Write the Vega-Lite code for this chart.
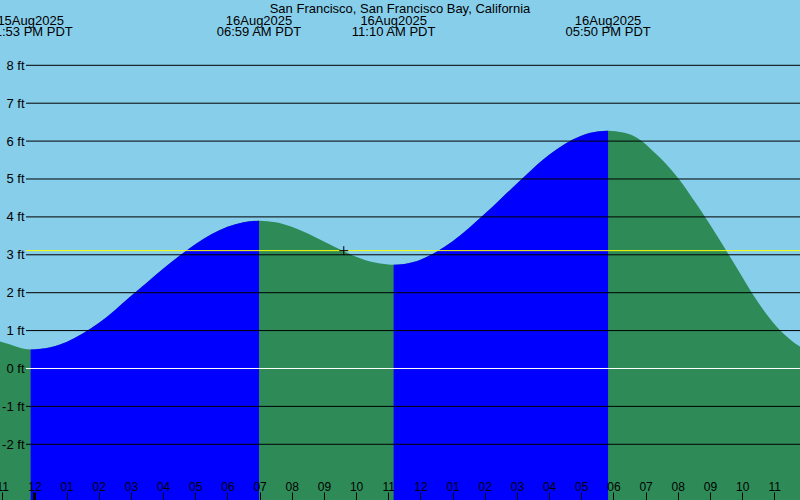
{
  "$schema": "https://vega.github.io/schema/vega-lite/v6.json",
  "description": "Tide prediction, San Francisco, 15-16 Aug 2025 (hour = hours from midnight 16Aug, PDT)",
  "width": 800,
  "height": 500,
  "autosize": "none",
  "padding": 0,
  "background": "#87ceeb",
  "title": {
    "text": "San Francisco, San Francisco Bay, California",
    "fontSize": 13,
    "fontWeight": "normal",
    "color": "black",
    "anchor": "middle",
    "frame": "group",
    "baseline": "alphabetic",
    "offset": -12,
    "dy": 14
  },
  "datasets": {
    "tide": [
      {"hour": -1.1, "ft": 0.72, "phase": "falling", "seg": "f1"},
      {"hour": -0.75, "ft": 0.63, "phase": "falling", "seg": "f1"},
      {"hour": -0.45, "ft": 0.545, "phase": "falling", "seg": "f1"},
      {"hour": -0.117, "ft": 0.5, "phase": "falling", "seg": "f1"},
      {"hour": -0.117, "ft": 0.5, "phase": "rising", "seg": "r1"},
      {"hour": 0.5, "ft": 0.56, "phase": "rising", "seg": "r1"},
      {"hour": 1.0, "ft": 0.7, "phase": "rising", "seg": "r1"},
      {"hour": 1.5, "ft": 0.92, "phase": "rising", "seg": "r1"},
      {"hour": 2.0, "ft": 1.2, "phase": "rising", "seg": "r1"},
      {"hour": 2.5, "ft": 1.54, "phase": "rising", "seg": "r1"},
      {"hour": 3.0, "ft": 1.91, "phase": "rising", "seg": "r1"},
      {"hour": 3.5, "ft": 2.27, "phase": "rising", "seg": "r1"},
      {"hour": 4.0, "ft": 2.63, "phase": "rising", "seg": "r1"},
      {"hour": 4.5, "ft": 2.97, "phase": "rising", "seg": "r1"},
      {"hour": 5.0, "ft": 3.28, "phase": "rising", "seg": "r1"},
      {"hour": 5.5, "ft": 3.54, "phase": "rising", "seg": "r1"},
      {"hour": 6.0, "ft": 3.74, "phase": "rising", "seg": "r1"},
      {"hour": 6.5, "ft": 3.86, "phase": "rising", "seg": "r1"},
      {"hour": 6.983, "ft": 3.9, "phase": "rising", "seg": "r1"},
      {"hour": 6.983, "ft": 3.9, "phase": "falling", "seg": "f2"},
      {"hour": 7.5, "ft": 3.86, "phase": "falling", "seg": "f2"},
      {"hour": 8.0, "ft": 3.74, "phase": "falling", "seg": "f2"},
      {"hour": 8.5, "ft": 3.56, "phase": "falling", "seg": "f2"},
      {"hour": 9.0, "ft": 3.35, "phase": "falling", "seg": "f2"},
      {"hour": 9.5, "ft": 3.14, "phase": "falling", "seg": "f2"},
      {"hour": 10.0, "ft": 2.95, "phase": "falling", "seg": "f2"},
      {"hour": 10.5, "ft": 2.81, "phase": "falling", "seg": "f2"},
      {"hour": 11.0, "ft": 2.745, "phase": "falling", "seg": "f2"},
      {"hour": 11.167, "ft": 2.74, "phase": "falling", "seg": "f2"},
      {"hour": 11.167, "ft": 2.74, "phase": "rising", "seg": "r2"},
      {"hour": 11.5, "ft": 2.76, "phase": "rising", "seg": "r2"},
      {"hour": 12.0, "ft": 2.87, "phase": "rising", "seg": "r2"},
      {"hour": 12.5, "ft": 3.08, "phase": "rising", "seg": "r2"},
      {"hour": 13.0, "ft": 3.36, "phase": "rising", "seg": "r2"},
      {"hour": 13.5, "ft": 3.7, "phase": "rising", "seg": "r2"},
      {"hour": 14.0, "ft": 4.08, "phase": "rising", "seg": "r2"},
      {"hour": 14.5, "ft": 4.48, "phase": "rising", "seg": "r2"},
      {"hour": 15.0, "ft": 4.88, "phase": "rising", "seg": "r2"},
      {"hour": 15.5, "ft": 5.28, "phase": "rising", "seg": "r2"},
      {"hour": 16.0, "ft": 5.64, "phase": "rising", "seg": "r2"},
      {"hour": 16.5, "ft": 5.93, "phase": "rising", "seg": "r2"},
      {"hour": 17.0, "ft": 6.14, "phase": "rising", "seg": "r2"},
      {"hour": 17.5, "ft": 6.25, "phase": "rising", "seg": "r2"},
      {"hour": 17.833, "ft": 6.27, "phase": "rising", "seg": "r2"},
      {"hour": 17.833, "ft": 6.27, "phase": "falling", "seg": "f3"},
      {"hour": 18.3, "ft": 6.23, "phase": "falling", "seg": "f3"},
      {"hour": 18.6, "ft": 6.15, "phase": "falling", "seg": "f3"},
      {"hour": 18.88, "ft": 6.0, "phase": "falling", "seg": "f3"},
      {"hour": 19.15, "ft": 5.8, "phase": "falling", "seg": "f3"},
      {"hour": 19.45, "ft": 5.56, "phase": "falling", "seg": "f3"},
      {"hour": 20.05, "ft": 4.98, "phase": "falling", "seg": "f3"},
      {"hour": 20.45, "ft": 4.5, "phase": "falling", "seg": "f3"},
      {"hour": 20.85, "ft": 4.0, "phase": "falling", "seg": "f3"},
      {"hour": 21.2, "ft": 3.53, "phase": "falling", "seg": "f3"},
      {"hour": 21.6, "ft": 2.98, "phase": "falling", "seg": "f3"},
      {"hour": 22.0, "ft": 2.42, "phase": "falling", "seg": "f3"},
      {"hour": 22.3, "ft": 2.0, "phase": "falling", "seg": "f3"},
      {"hour": 22.7, "ft": 1.5, "phase": "falling", "seg": "f3"},
      {"hour": 23.2, "ft": 0.99, "phase": "falling", "seg": "f3"},
      {"hour": 23.5, "ft": 0.76, "phase": "falling", "seg": "f3"},
      {"hour": 23.85, "ft": 0.55, "phase": "falling", "seg": "f3"}
    ],
    "levels": [
      {"level": -2}, {"level": -1}, {"level": 0}, {"level": 1}, {"level": 2},
      {"level": 3}, {"level": 4}, {"level": 5}, {"level": 6}, {"level": 7}, {"level": 8}
    ],
    "now": [
      {"hour": 9.617, "level": 3.11}
    ],
    "events": [
      {"hour": -0.117, "date": "15Aug2025", "time": "11:53 PM PDT"},
      {"hour": 6.983, "date": "16Aug2025", "time": "06:59 AM PDT"},
      {"hour": 11.167, "date": "16Aug2025", "time": "11:10 AM PDT"},
      {"hour": 17.833, "date": "16Aug2025", "time": "05:50 PM PDT"}
    ]
  },
  "layer": [
    {
      "data": {"name": "tide"},
      "mark": {"type": "area", "interpolate": "monotone", "color": "#2e8b57"},
      "encoding": {
        "x": {
          "field": "hour",
          "type": "quantitative",
          "scale": {"domain": [-1.069, 23.799], "nice": false, "zero": false},
          "axis": {
            "orient": "bottom",
            "title": null,
            "zindex": 1,
            "domain": false,
            "grid": false,
            "offset": -8,
            "tickSize": 8,
            "tickColor": "black",
            "tickCount": 40,
            "values": [-1, 0, 1, 2, 3, 4, 5, 6, 7, 8, 9, 10, 11, 12, 13, 14, 15, 16, 17, 18, 19, 20, 21, 22, 23],
            "tickWidth": {"condition": {"test": "datum.value == 0", "value": 3}, "value": 1},
            "labelExpr": "format((datum.value + 11) % 12 + 1, '02d')",
            "labelPadding": -10,
            "labelBaseline": "alphabetic",
            "labelOverlap": false,
            "labelFlush": false,
            "labelBound": false,
            "labelFontSize": 12,
            "labelColor": "black"
          }
        },
        "y": {
          "field": "ft",
          "type": "quantitative",
          "scale": {"domain": [-3.47, 9.723], "nice": false, "zero": false},
          "axis": {
            "title": null,
            "zindex": 1,
            "values": [-2, -1, 0, 1, 2, 3, 4, 5, 6, 7, 8],
            "labelExpr": "datum.value + ' ft'",
            "domain": false,
            "ticks": false,
            "grid": false,
            "offset": -26,
            "labelPadding": 2,
            "labelFontSize": 13,
            "labelColor": "black"
          }
        },
        "y2": {"datum": -3.47}
      }
    },
    {
      "data": {"name": "tide"},
      "transform": [{"filter": "datum.phase == 'rising'"}],
      "mark": {"type": "area", "interpolate": "monotone", "color": "#0000ff"},
      "encoding": {
        "x": {"field": "hour", "type": "quantitative"},
        "y": {"field": "ft", "type": "quantitative"},
        "y2": {"datum": -3.47},
        "detail": {"field": "seg"}
      }
    },
    {
      "data": {"name": "levels"},
      "mark": {"type": "rule", "strokeWidth": 1},
      "encoding": {
        "y": {"field": "level", "type": "quantitative"},
        "x": {"datum": -0.261},
        "x2": {"datum": 23.799},
        "color": {"condition": {"test": "datum.level == 0", "value": "white"}, "value": "black"}
      }
    },
    {
      "data": {"name": "now"},
      "mark": {"type": "rule", "strokeWidth": 1, "color": "#ffff00"},
      "encoding": {
        "y": {"field": "level", "type": "quantitative"},
        "x": {"datum": -0.261},
        "x2": {"datum": 23.799}
      }
    },
    {
      "data": {"name": "now"},
      "mark": {"type": "point", "shape": "M-1,0H1M0,-1V1", "size": 81, "filled": false, "stroke": "black", "strokeWidth": 1, "opacity": 1},
      "encoding": {
        "x": {"field": "hour", "type": "quantitative"},
        "y": {"field": "level", "type": "quantitative"}
      }
    },
    {
      "data": {"name": "events"},
      "mark": {"type": "text", "fontSize": 13, "color": "black", "align": "center", "baseline": "alphabetic"},
      "encoding": {
        "x": {"field": "hour", "type": "quantitative"},
        "y": {"datum": 9.071},
        "text": {"field": "date"}
      }
    },
    {
      "data": {"name": "events"},
      "mark": {"type": "text", "fontSize": 13, "color": "black", "align": "center", "baseline": "alphabetic"},
      "encoding": {
        "x": {"field": "hour", "type": "quantitative"},
        "y": {"datum": 8.773},
        "text": {"field": "time"}
      }
    }
  ],
  "config": {
    "font": "Liberation Sans",
    "view": {"stroke": null, "fill": "#87ceeb"}
  }
}
